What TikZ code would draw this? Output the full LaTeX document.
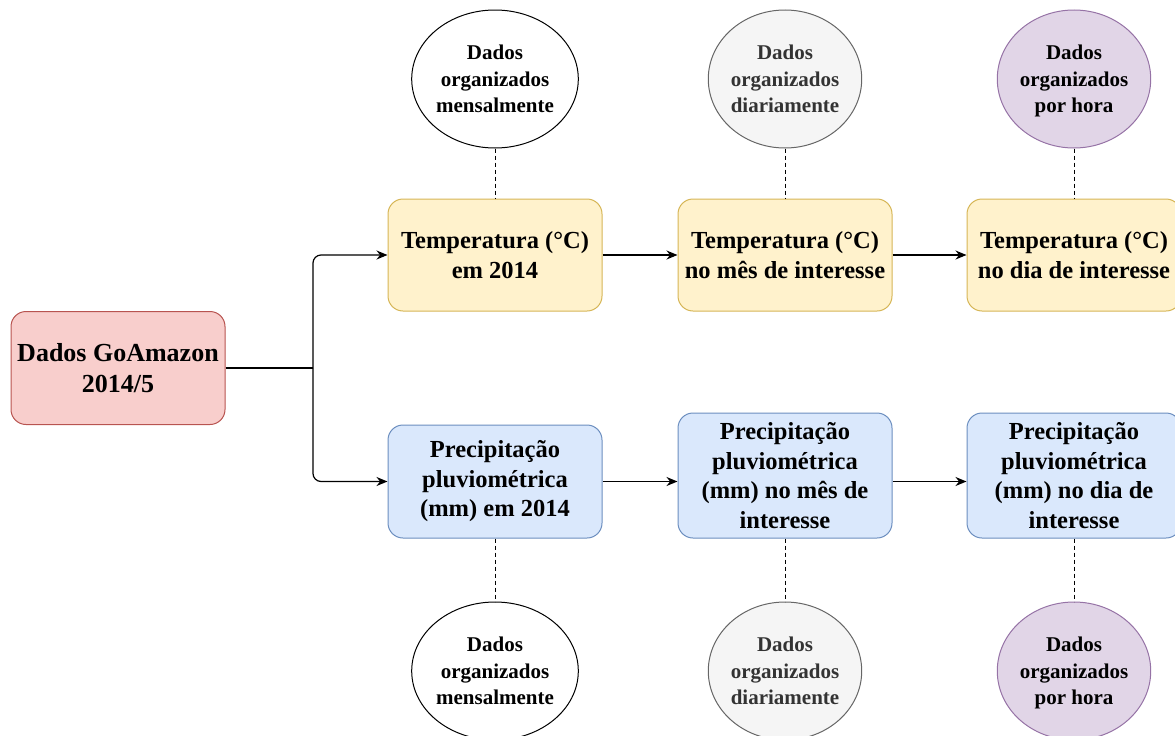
\documentclass[tikz,border=0pt]{standalone}
\usepackage{fontspec}
\setmainfont{Liberation Serif}
\usetikzlibrary{shapes.geometric,arrows.meta}

\definecolor{redfill}{HTML}{F8CECC}
\definecolor{redline}{HTML}{B85450}
\definecolor{yelfill}{HTML}{FFF2CC}
\definecolor{yelline}{HTML}{D6B656}
\definecolor{bluefill}{HTML}{DAE8FC}
\definecolor{blueline}{HTML}{6C8EBF}
\definecolor{grayfill}{HTML}{F5F5F5}
\definecolor{grayline}{HTML}{666666}
\definecolor{purfill}{HTML}{E1D5E7}
\definecolor{purline}{HTML}{9673A6}

\begin{document}
\begin{tikzpicture}[x=1pt,y=-1pt,
    box/.style={draw,rounded corners=15pt,line width=1pt,minimum width=214pt,
      align=center,inner sep=0pt,font=\bfseries\fontsize{24.5}{29.5}\selectfont},
    tbox/.style={box,fill=yelfill,draw=yelline,minimum height=112pt},
    pbox/.style={box,fill=bluefill,draw=blueline},
    dot/.style={draw,ellipse,line width=1pt,minimum width=148pt,minimum height=138pt,
      inner sep=0pt,align=center,font=\bfseries\fontsize{21}{26.5}\selectfont},
    link/.style={line width=1.2pt},
    arrow/.style={link,-{Stealth[length=11pt,width=9pt]}},
    dotline/.style={line width=0.9pt,dash pattern=on 4pt off 3pt}]
  \useasboundingbox (0,0) rectangle (1175,736);
  % source of the data
  \node[box,fill=redfill,draw=redline,minimum height=113pt,
        font=\bfseries\fontsize{26}{31}\selectfont] (G) at (118,368) {Dados GoAmazon\\2014/5};
  \coordinate (S) at (313,368);
  % temperature row
  \node[tbox] (T1) at (495,255) {Temperatura (°C)\\em 2014};
  \node[tbox] (T2) at (785,255) {Temperatura (°C)\\no mês de interesse};
  \node[tbox] (T3) at (1074,255) {Temperatura (°C)\\no dia de interesse};
  % precipitation row
  \node[pbox,minimum height=113pt] (P1) at (495,481.5) {Precipitação\\pluviométrica\\(mm) em 2014};
  \node[pbox,minimum height=125pt] (P2) at (785,475.5) {Precipitação\\pluviométrica\\(mm) no mês de\\interesse};
  \node[pbox,minimum height=125pt] (P3) at (1074,475.5) {Precipitação\\pluviométrica\\(mm) no dia de\\interesse};
  % circles above and below
  \node[dot] (CT1) at (495,79) {Dados\\organizados\\mensalmente};
  \node[dot,fill=grayfill,draw=grayline,text=black!80] (CT2) at (785,79) {Dados\\organizados\\diariamente};
  \node[dot,fill=purfill,draw=purline] (CT3) at (1074,79) {Dados\\organizados\\\smash{por hora}};
  \node[dot] (CP1) at (495,671) {Dados\\organizados\\mensalmente};
  \node[dot,fill=grayfill,draw=grayline,text=black!80] (CP2) at (785,671) {Dados\\organizados\\diariamente};
  \node[dot,fill=purfill,draw=purline] (CP3) at (1074,671) {Dados\\organizados\\\smash{por hora}};
  % connectors
  \draw[link] (G.east) -- (S);
  \draw[arrow,rounded corners=8pt] (S) |- (T1);
  \draw[arrow,rounded corners=8pt] (S) |- (P1);
  \draw[arrow] (T1) -- (T2);
  \draw[arrow] (T2) -- (T3);
  \draw[arrow] (P1.east) -- (P1.east -| P2.west);
  \draw[arrow] (P2.east |- P1) -- (P3.west |- P1);
  \draw[dotline] (CT1) -- (T1);
  \draw[dotline] (CT2) -- (T2);
  \draw[dotline] (CT3) -- (T3);
  \draw[dotline] (P1) -- (CP1);
  \draw[dotline] (P2) -- (CP2);
  \draw[dotline] (P3) -- (CP3);
\end{tikzpicture}
\end{document}
